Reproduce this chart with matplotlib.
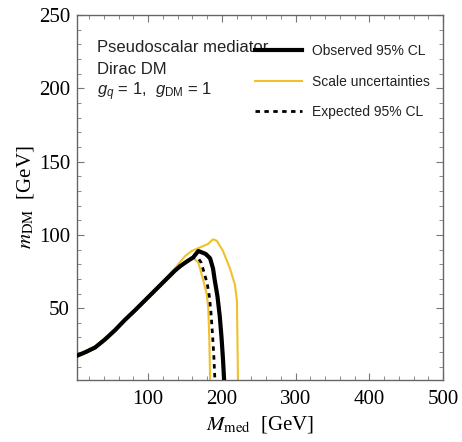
import matplotlib
matplotlib.use("Agg")
import matplotlib.pyplot as plt
from matplotlib.ticker import MultipleLocator
from matplotlib.lines import Line2D

plt.rcParams['mathtext.fontset'] = 'custom'
plt.rcParams['mathtext.rm'] = 'Liberation Sans'
plt.rcParams['mathtext.it'] = 'Liberation Sans:italic'

# Observed 95% CL
obs_x = [3, 14, 28, 41, 55, 68, 82, 96, 109, 123, 136, 143, 150, 156, 161, 168, 173, 178, 184, 188, 190, 194, 197, 199.5, 201.5, 203]
obs_y = [17.5, 19.8, 23.2, 28.5, 35, 41.8, 48.5, 55.5, 62, 69, 75.5, 78.5, 81, 83, 84.6, 89, 88, 87, 84, 77, 70, 58, 45, 30, 15, 1]

# Expected 95% CL
exp_x = [3, 14, 28, 41, 55, 68, 82, 96, 109, 123, 136, 150, 161, 168, 172, 176, 180, 183, 185, 187, 189, 190.5]
exp_y = [17.5, 19.8, 23.2, 28.5, 35, 41.8, 48.5, 55.5, 62, 69, 75.5, 81, 84.6, 84, 81, 74, 67, 58, 48, 34, 18, 1]

# Scale uncertainties (upper and lower envelopes)
up_x = [3, 14, 28, 41, 55, 68, 82, 96, 109, 123, 136, 150, 159, 170, 181, 188, 193, 201.5, 211, 217.7, 220.4, 221.8]
up_y = [18.2, 20.5, 24, 29.3, 35.8, 42.6, 49.3, 56.3, 62.8, 70, 77, 85.5, 89, 91.4, 93.7, 97, 96, 89, 77, 66, 55, 1]
lo_x = [3, 14, 28, 41, 55, 68, 82, 96, 109, 123, 136, 150, 161, 168, 172.6, 179.4, 181.5, 183, 184]
lo_y = [16.8, 19, 22.5, 27.8, 34.2, 41, 47.7, 54.7, 61.2, 68.2, 74.7, 80.5, 84.6, 81, 73, 59.6, 50, 28, 1]

xticks = [100, 200, 300, 400, 500]
yticks = [50, 100, 150, 200, 250]

gold = '#EFC12A'

fig = plt.figure(figsize=(4.62, 4.42), dpi=100)
ax = fig.add_axes([77/462, 1-380/442, 366/462, 365/442])

ax.plot(up_x, up_y, color=gold, lw=1.5, zorder=2)
ax.plot(lo_x, lo_y, color=gold, lw=1.5, zorder=2)
ax.plot(exp_x, exp_y, color='black', lw=2.0, linestyle=(0, (1.6, 1.6)), zorder=3)
ax.plot(obs_x, obs_y, color='black', lw=3.0, zorder=4)

ax.set_xlim(3.4, 500)
ax.set_ylim(1, 250)
ax.set_xticks(xticks)
ax.set_yticks(yticks)
ax.xaxis.set_minor_locator(MultipleLocator(20))
ax.yaxis.set_minor_locator(MultipleLocator(10))
ax.tick_params(which='both', direction='in', top=True, right=True, color='#777777')
ax.tick_params(which='major', length=5, width=0.8, labelsize=15)
ax.tick_params(axis='x', which='major', pad=7)
ax.tick_params(axis='y', which='major', pad=5)
ax.tick_params(which='minor', length=3, width=0.6)
for lab in ax.get_xticklabels() + ax.get_yticklabels():
    lab.set_fontfamily('Liberation Serif')
for s in ax.spines.values():
    s.set_color('#666666')
    s.set_linewidth(1.0)

ax.set_xlabel(r'$M_{\rm med}$  [GeV]', family='Liberation Serif', fontsize=15,
              math_fontfamily='stix', labelpad=4)
ax.set_ylabel(r'$m_{\rm DM}$  [GeV]', family='Liberation Serif', fontsize=15,
              math_fontfamily='stix', labelpad=2)

tx = (97-77)/366
kw = dict(transform=ax.transAxes, family='Liberation Sans', fontsize=12,
          va='center', ha='left', color='#222222')
ax.text(tx, 1-(47-15)/365, 'Pseudoscalar mediator', **kw)
ax.text(tx, 1-(69-15)/365, 'Dirac DM', **kw)
ax.text(tx, 1-(92-15)/365, r'$g_q$ = 1,  $g_{\rm DM}$ = 1', math_fontfamily='custom', **kw)

handles = [Line2D([], [], color='black', lw=3.0),
           Line2D([], [], color=gold, lw=1.5),
           Line2D([], [], color='black', lw=2.0, linestyle=(0, (1.6, 1.6)))]
labels = ['Observed 95% CL', 'Scale uncertainties', 'Expected 95% CL']
leg = ax.legend(handles, labels, loc='upper left', bbox_to_anchor=((255-77)/366, 1-(44-15)/365),
                frameon=False, borderpad=0, borderaxespad=0, handlelength=3.4,
                handletextpad=0.7, labelspacing=1.2,
                prop={'family': 'Liberation Sans', 'size': 10})
for t in leg.get_texts():
    t.set_color('#222222')

fig.savefig('out.png', dpi=100)
